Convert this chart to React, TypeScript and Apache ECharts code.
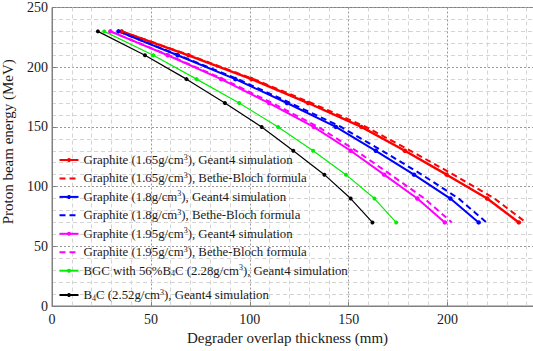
import React, { useEffect, useRef } from 'react';
import * as echarts from 'echarts';

// Proton beam energy (MeV) at each marker
const energyMeV = [230, 210, 190, 170, 150, 130, 110, 90, 70];

// Degrader overlap thickness (mm) per series
const graphite165Geant4 = [35.2, 69.0, 100.9, 129.5, 156.4, 178.4, 199.5, 220.0, 236.0];
const graphite165Bethe = [35.2, 69.6, 102.0, 131.2, 158.7, 181.3, 203.0, 223.7, 239.6];
const graphite18Geant4 = [33.6, 63.5, 92.7, 118.8, 143.5, 163.7, 183.0, 201.4, 215.7];
const graphite18Bethe = [33.6, 64.1, 93.9, 120.6, 146.1, 167.0, 187.0, 205.6, 219.6];
const graphite195Geant4 = [29.5, 58.5, 85.5, 109.7, 132.3, 151.0, 167.9, 184.7, 198.6];
const graphite195Bethe = [29.5, 59.0, 86.6, 111.3, 134.6, 153.8, 171.2, 188.3, 202.1];
const bgcGeant4 = [26.4, 51.2, 73.1, 94.6, 114.3, 132.0, 148.6, 163.0, 174.0];
const b4cGeant4 = [23.2, 47.0, 68.0, 87.4, 106.0, 122.0, 137.7, 151.0, 162.0];

const xTickLabels = [0, 50, 100, 150, 200];
const yTickLabels = [0, 50, 100, 150, 200, 250];

const seriesNames = [
  'Graphite (1.65g/cm3), Geant4 simulation',
  'Graphite (1.65g/cm3), Bethe-Bloch formula',
  'Graphite (1.8g/cm3), Geant4 simulation',
  'Graphite (1.8g/cm3), Bethe-Bloch formula',
  'Graphite (1.95g/cm3), Geant4 simulation',
  'Graphite (1.95g/cm3), Bethe-Bloch formula',
  'BGC with 56%B4C (2.28g/cm3), Geant4 simulation',
  'B4C (2.52g/cm3), Geant4 simulation',
];

const legendLabels = [
  'Graphite (1.65g/cm{sup|3}), Geant4 simulation',
  'Graphite (1.65g/cm{sup|3}), Bethe-Bloch formula',
  'Graphite (1.8g/cm{sup|3}), Geant4 simulation',
  'Graphite (1.8g/cm{sup|3}), Bethe-Bloch formula',
  'Graphite (1.95g/cm{sup|3}), Geant4 simulation',
  'Graphite (1.95g/cm{sup|3}), Bethe-Bloch formula',
  'BGC with 56%B{sub|4}C (2.28g/cm{sup|3}), Geant4 simulation',
  'B{sub|4}C (2.52g/cm{sup|3}), Geant4 simulation',
];

const seriesValues = [
  graphite165Geant4, graphite165Bethe,
  graphite18Geant4, graphite18Bethe,
  graphite195Geant4, graphite195Bethe,
  bgcGeant4, b4cGeant4,
];

const seriesColors = ['#ff0000', '#ff0000', '#0000ff', '#0000ff', '#ff00ff', '#ff00ff', '#00ee00', '#000000'];
const seriesDashed = [false, true, false, true, false, true, false, false];
const seriesWidths = [2.4, 2, 2, 2, 2, 2, 1.2, 1.2];
const seriesSymbolSizes = [4.5, 0, 4.5, 0, 4.5, 0, 4, 4];

const FONT = "'Liberation Serif', 'Times New Roman', serif";
const TEXT_COLOR = '#1a1a1a';
const AXIS_COLOR = '#808080';

export default function App() {
  const ref = useRef<HTMLDivElement>(null);

  useEffect(() => {
    const chart = echarts.init(ref.current!, null, { renderer: 'svg' });

    const series = seriesNames.map((name, i) => ({
      name,
      type: 'line',
      data: seriesValues[i].map((x, j) => [x, energyMeV[j]]),
      showSymbol: !seriesDashed[i],
      symbol: seriesDashed[i] ? 'none' : 'circle',
      symbolSize: seriesSymbolSizes[i],
      color: seriesColors[i],
      itemStyle: { color: seriesColors[i], opacity: seriesDashed[i] ? 0 : 1 },
      lineStyle: {
        color: seriesColors[i],
        width: seriesWidths[i],
        type: seriesDashed[i] ? [6, 4] : 'solid',
      },
      emphasis: { disabled: true },
      z: 3,
    }));

    const labelMap: Record<string, string> = {};
    seriesNames.forEach((n, i) => (labelMap[n] = legendLabels[i]));

    const legendText = {
      fontFamily: FONT,
      fontSize: 12.8,
      color: TEXT_COLOR,
      lineHeight: 14,
      rich: {
        sup: { fontFamily: FONT, fontSize: 8, lineHeight: 6, verticalAlign: 'top', color: TEXT_COLOR },
        sub: { fontFamily: FONT, fontSize: 8, lineHeight: 6, verticalAlign: 'bottom', color: TEXT_COLOR },
      },
    };

    const legendBase = {
      orient: 'vertical',
      left: 58.5,
      padding: 0,
      itemWidth: 19,
      itemHeight: 5,
      itemGap: 4.45,
      formatter: (name: string) => labelMap[name],
      textStyle: legendText,
      selectedMode: false,
    };

    const legendItem = (i: number) =>
      seriesDashed[i]
        ? { name: seriesNames[i], itemStyle: { opacity: 0 } }
        : { name: seriesNames[i] };

    const axisLabelStyle = { fontFamily: FONT, fontSize: 14, color: TEXT_COLOR };

    const option = {
      animation: false,
      backgroundColor: '#ffffff',
      textStyle: { fontFamily: FONT },
      grid: {
        left: 52,
        top: 7.5,
        right: -13.5,
        bottom: 45,
        show: true,
        borderColor: AXIS_COLOR,
        borderWidth: 1,
        containLabel: false,
        outerBoundsMode: 'none',
      },
      legend: [
        { ...legendBase, top: 153, data: [0, 1, 2, 3, 4, 5, 6].map(legendItem) },
        { ...legendBase, top: 288, data: [7].map(legendItem) },
      ],
      xAxis: {
        type: 'value',
        min: 0,
        max: 250,
        interval: 50,
        name: 'Degrader overlap thickness (mm)',
        nameLocation: 'middle',
        nameGap: 23,
        nameTextStyle: { fontFamily: FONT, fontSize: 15, color: TEXT_COLOR, padding: [0, 23.5, 0, 0] },
        axisLine: { show: true, onZero: false, lineStyle: { color: AXIS_COLOR, width: 1 } },
        axisTick: { show: true, inside: true, length: 4, lineStyle: { color: AXIS_COLOR } },
        axisLabel: {
          ...axisLabelStyle,
          margin: 6,
          formatter: (v: number) => (xTickLabels.includes(v) ? String(v) : ''),
        },
        splitLine: { show: true, lineStyle: { color: '#9a9a9a', type: [2, 2], width: 1 } },
        minorTick: { show: false, splitNumber: 5 },
        minorSplitLine: { show: true, lineStyle: { color: '#d4d4d4', type: [4, 3], width: 1 } },
      },
      yAxis: {
        type: 'value',
        min: 0,
        max: 250,
        interval: 50,
        name: 'Proton beam energy (MeV)',
        nameLocation: 'middle',
        nameGap: 37,
        nameRotate: 90,
        nameTextStyle: { fontFamily: FONT, fontSize: 15, color: TEXT_COLOR, padding: [0, 0, 0, 30] },
        axisLine: { show: true, onZero: false, lineStyle: { color: AXIS_COLOR, width: 1 } },
        axisTick: { show: true, inside: true, length: 4, lineStyle: { color: AXIS_COLOR } },
        axisLabel: {
          ...axisLabelStyle,
          margin: 4,
          formatter: (v: number) => (yTickLabels.includes(v) ? String(v) : ''),
        },
        splitLine: { show: true, lineStyle: { color: '#9a9a9a', type: [2, 2], width: 1 } },
        minorTick: { show: false, splitNumber: 5 },
        minorSplitLine: { show: true, lineStyle: { color: '#d4d4d4', type: [4, 3], width: 1 } },
      },
      series,
    };

    chart.setOption(option as any);
    return () => chart.dispose();
  }, []);

  return (
    <div
      ref={ref}
      style={{ position: 'fixed', left: 0, top: 0, width: 533, height: 351, background: '#fff' }}
    />
  );
}
